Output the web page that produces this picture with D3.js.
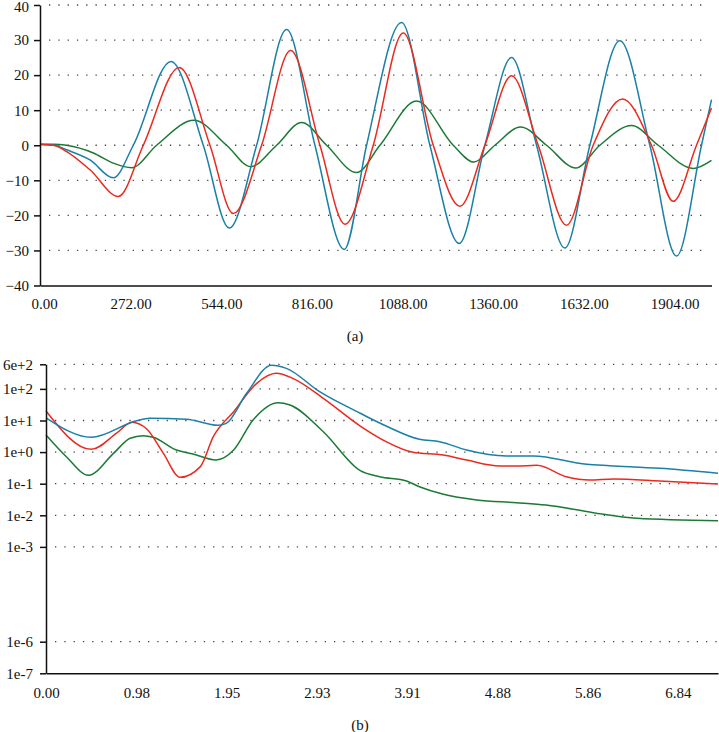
<!DOCTYPE html>
<html>
<head>
<meta charset="utf-8">
<script src="https://cdn.jsdelivr.net/npm/d3@7"></script>
<style>
  html, body { margin: 0; padding: 0; background: #fff; }
  svg { display: block; }
  text { font-family: "Liberation Serif", "DejaVu Serif", serif; fill: #111; }
</style>
</head>
<body>
<svg id="chart" width="719" height="732"></svg>
<script>
// ---------- Panel (a): time signals ----------
const aXTicks = [0, 272, 544, 816, 1088, 1360, 1632, 1904];
const aYTicks = [-40, -30, -20, -10, 0, 10, 20, 30, 40];
const aBlue = [[0,0.3],[40,0.1],[80,-1.3],[150,-4.2],[220,-9.3],[280,0],[393,23.9],[490,0],[568,-23.6],[650,0],[740,33],[825,0],[913,-29.7],[980,0],[1085,35],[1170,0],[1258,-28],[1335,0],[1415,25],[1490,0],[1575,-29.3],[1650,0],[1740,29.8],[1830,0],[1910,-31.6],[1985,0],[2015,13]];
const aRed = [[0,0.2],[40,0],[80,-1.8],[150,-7],[235,-14.6],[310,0],[418,22.2],[510,0],[580,-19.5],[665,0],[752,27],[840,0],[915,-22.5],[1000,0],[1090,32],[1180,0],[1260,-17.4],[1335,0],[1415,19.8],[1495,0],[1580,-22.8],[1660,0],[1748,13.2],[1835,0],[1900,-16],[1970,0],[2015,10.6]];
const aGreen = [[0,0.3],[40,0.3],[80,0],[160,-2.2],[220,-5.1],[275,-6.4],[350,0],[462,7.1],[560,0],[632,-6.1],[710,0],[785,6.5],[860,0],[950,-7.8],[1020,0],[1130,12.6],[1240,0],[1302,-4.8],[1365,0],[1442,5.2],[1520,0],[1608,-6.5],[1680,0],[1775,5.6],[1855,0],[1960,-6.6],[2015,-4.3]];

// ---------- Panel (b): spectra (log scale) ----------
const bXTicks = [0, 0.9765625, 1.953125, 2.9296875, 3.90625, 4.8828125, 5.859375, 6.8359375];
const bYTicks = [600, 1e2, 1e1, 1e0, 1e-1, 1e-2, 1e-3, 1e-6, 1e-7];
const bYLabels = ["6e+2", "1e+2", "1e+1", "1e+0", "1e-1", "1e-2", "1e-3", "1e-6", "1e-7"];
const bBlue = [[0,12.2],[0.49,2.94],[0.98,9.84],[1.12,11.7],[1.52,11.0],[1.86,7.05],[1.95,8.13],[2.17,72.4],[2.44,557],[2.6,447],[2.96,81.3],[3.40,16.9],[3.68,6.68],[4.04,2.54],[4.26,2.14],[4.55,1.16],[4.98,0.752],[5.27,0.752],[5.85,0.41],[6.10,0.372],[6.64,0.307],[7.27,0.214]];
const bRed = [[0,20],[0.49,1.22],[0.76,3.89],[0.93,8.77],[1.09,5.37],[1.27,0.912],[1.45,0.159],[1.67,0.347],[1.81,3.07],[2.03,19.0],[2.28,150],[2.49,311],[2.67,216],[3.0,50.4],[3.40,6.68],[3.68,2.14],[3.97,0.984],[4.30,0.809],[4.55,0.562],[4.91,0.363],[5.09,0.363],[5.31,0.382],[5.63,0.166],[5.88,0.131],[6.14,0.141],[6.64,0.122],[7.27,0.0977]];
const bGreen = [[0,3.48],[0.22,0.714],[0.46,0.185],[0.73,0.912],[0.91,2.73],[1.05,3.31],[1.16,2.94],[1.41,1.16],[1.59,0.871],[1.84,0.562],[2.03,1.16],[2.24,10.35],[2.51,36.6],[2.64,30.9],[3.0,4.42],[3.40,0.258],[3.61,0.166],[3.90,0.122],[4.04,0.0804],[4.30,0.0461],[4.66,0.0305],[5.09,0.0251],[5.41,0.0211],[5.92,0.0121],[6.39,0.00804],[7.27,0.00676]];

const COLORS = { blue: "#1a80a6", red: "#ea2a1e", green: "#1c7a34" };

const svg = d3.select("#chart");

function dotted(g, x0, x1, ys) {
  g.selectAll("line.grid").data(ys).join("line")
    .attr("class", "grid")
    .attr("x1", x0).attr("x2", x1)
    .attr("y1", d => d).attr("y2", d => d)
    .attr("stroke", "#444")
    .attr("stroke-width", 1.3)
    .attr("stroke-dasharray", "1.3,8");
}

function styleAxis(g) {
  g.selectAll("path.domain").attr("stroke", "#111").attr("stroke-width", 1.5);
  g.selectAll(".tick line").attr("stroke", "#111").attr("stroke-width", 1.5);
  g.selectAll("text").attr("font-size", 15)
    .attr("font-family", "'Liberation Serif', 'DejaVu Serif', serif").attr("fill", "#111");
}

// ---- Panel (a)
{
  const x = d3.scaleLinear().domain([0, 2015]).range([40, 711.5]);
  const y = d3.scaleLinear().domain([-40, 40]).range([285.5, 5]);
  const g = svg.append("g");
  dotted(g.append("g"), 49, 709, aYTicks.filter(v => v > -40).map(v => y(v)));

  const line = d3.line().x(d => x(d[0])).y(d => y(d[1])).curve(d3.curveMonotoneX);
  [[aGreen, COLORS.green], [aBlue, COLORS.blue], [aRed, COLORS.red]].forEach(([data, c]) => {
    g.append("path").datum(data).attr("d", line)
      .attr("fill", "none").attr("stroke", c).attr("stroke-width", 1.5);
  });

  const xa = g.append("g").attr("transform", `translate(0,${y(-40)})`)
    .call(d3.axisBottom(x).tickValues(aXTicks).tickFormat(d3.format(".2f")).tickSize(0).tickSizeOuter(0).tickPadding(13));
  styleAxis(xa);
  xa.select(".tick text").attr("dx", 4);
  const ya = g.append("g").attr("transform", `translate(${x(0)},0)`)
    .call(d3.axisLeft(y).tickValues(aYTicks).tickFormat(d3.format("d")).tickSize(6).tickSizeOuter(0).tickPadding(5));
  styleAxis(ya);
  ya.selectAll(".tick text").filter(d => d === 40).attr("y", 1.5);

  g.append("text").attr("x", 355).attr("y", 341).attr("text-anchor", "middle")
    .attr("font-size", 15).text("(a)");
}

// ---- Panel (b)
{
  const x = d3.scaleLinear().domain([0, 7.27]).range([46, 718]);
  const y = d3.scaleLog().domain([1e-7, 600]).range([673.3, 364.3]);
  const g = svg.append("g");
  dotted(g.append("g"), 55, 718, bYTicks.filter(v => v > 1e-7).map(v => y(v)));

  const line = d3.line().x(d => x(d[0])).y(d => y(d[1])).curve(d3.curveMonotoneX);
  [[bGreen, COLORS.green], [bRed, COLORS.red], [bBlue, COLORS.blue]].forEach(([data, c]) => {
    g.append("path").datum(data).attr("d", line)
      .attr("fill", "none").attr("stroke", c).attr("stroke-width", 1.5);
  });

  const xa = g.append("g").attr("transform", `translate(0,${y(1e-7)})`)
    .call(d3.axisBottom(x).tickValues(bXTicks).tickFormat(d3.format(".2f")).tickSize(0).tickSizeOuter(0).tickPadding(14));
  styleAxis(xa);
  const ya = g.append("g").attr("transform", `translate(${x(0)},0)`)
    .call(d3.axisLeft(y).tickValues(bYTicks).tickFormat((d, i) => bYLabels[i]).tickSize(6).tickSizeOuter(0).tickPadding(7));
  styleAxis(ya);

  g.append("text").attr("x", 360).attr("y", 730).attr("text-anchor", "middle")
    .attr("font-size", 15).text("(b)");
}
</script>
</body>
</html>
